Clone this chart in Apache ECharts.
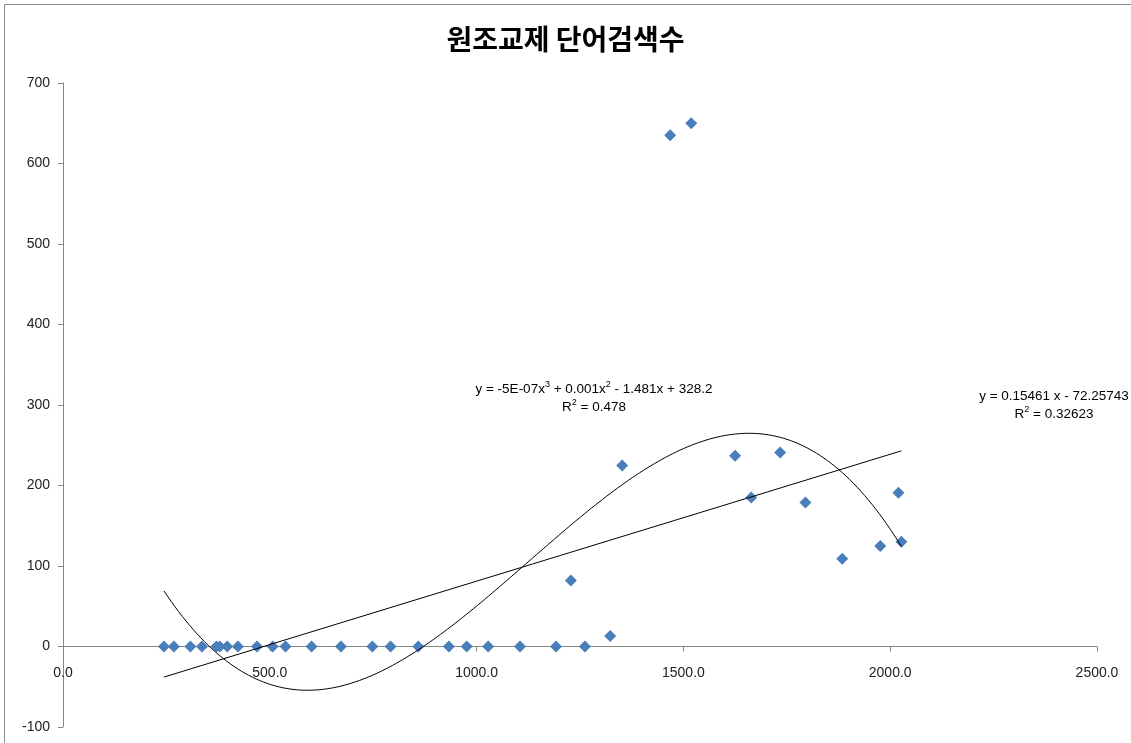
<!DOCTYPE html>
<html>
<head>
<meta charset="utf-8">
<script src="https://cdn.jsdelivr.net/npm/echarts@6/dist/echarts.min.js"></script>
<style>
html,body{margin:0;padding:0;background:#fff;}
#chart{width:1131px;height:743px;}
</style>
</head>
<body>
<div id="chart"></div>
<script>
const titleText = '원조교제 단어검색수';
const xValues = [244, 268, 308, 336, 371, 379, 397, 423, 469, 507, 538, 601, 672, 748, 792, 859, 933, 976, 1028, 1105, 1192, 1262, 1323,
  1228, 1352, 1468, 1519, 1625, 1664, 1734, 1795, 1884, 1976, 2020, 2027];
const yValues = [0, 0, 0, 0, 0, 0, 0, 0, 0, 0, 0, 0, 0, 0, 0, 0, 0, 0, 0, 0, 0, 0, 13,
  82, 225, 635, 650, 237, 185, 241, 179, 109, 125, 191, 130];
const yTicks = [-100, 0, 100, 200, 300, 400, 500, 600, 700];
const xTicks = [0, 500, 1000, 1500, 2000, 2500];
const polyLabel = ['y = -5E-07x', '3', ' + 0.001x', '2', ' - 1.481x + 328.2'];
const polyR2 = '0.478';
const linLabel = 'y = 0.15461 x - 72.25743';
const linR2 = '0.32623';

// least squares polynomial fit (trendlines derived from the data)
function polyFit(xs, ys, deg) {
  const s = 1000;
  const n = deg + 1;
  const A = [];
  for (let i = 0; i < n; i++) { A.push(new Array(n + 1).fill(0)); }
  for (let k = 0; k < xs.length; k++) {
    const x = xs[k] / s;
    for (let i = 0; i < n; i++) {
      for (let j = 0; j < n; j++) A[i][j] += Math.pow(x, i + j);
      A[i][n] += ys[k] * Math.pow(x, i);
    }
  }
  for (let c = 0; c < n; c++) {
    let p = c;
    for (let r = c + 1; r < n; r++) if (Math.abs(A[r][c]) > Math.abs(A[p][c])) p = r;
    [A[c], A[p]] = [A[p], A[c]];
    for (let r = 0; r < n; r++) {
      if (r === c) continue;
      const f = A[r][c] / A[c][c];
      for (let j = c; j <= n; j++) A[r][j] -= f * A[c][j];
    }
  }
  const coef = A.map((row, i) => row[n] / row[i]);
  return x => coef.reduce((acc, cf, i) => acc + cf * Math.pow(x / s, i), 0);
}
const minX = Math.min(...xValues), maxX = Math.max(...xValues);
const linF = polyFit(xValues, yValues, 1);
const cubF = polyFit(xValues, yValues, 3);
const linData = [[minX, linF(minX)], [maxX, linF(maxX)]];
const cubData = [];
for (let i = 0; i <= 200; i++) {
  const x = minX + (maxX - minX) * i / 200;
  cubData.push([x, cubF(x)]);
}

const gridTop = 83, gridBottom = 16, H = 743;
const yMin = yTicks[0], yMax = yTicks[yTicks.length - 1];
const plotH = H - gridTop - gridBottom;
const zeroOffset = -plotH * (0 - yMin) / (yMax - yMin);

const chart = echarts.init(document.getElementById('chart'), null, {renderer: 'canvas'});
const labelFont = 'Liberation Sans, Arial, sans-serif';
const richStyle = {
  a: {fontSize: 13.5, fontFamily: labelFont, color: '#000', lineHeight: 18},
  s: {fontSize: 9, fontFamily: labelFont, color: '#000', verticalAlign: 'top', lineHeight: 18, padding: [0, 0, 7, 0]}
};
chart.setOption({
  backgroundColor: '#fff',
  animation: false,
  title: {
    text: titleText, left: 'center', top: 20,
    textStyle: {fontFamily: 'Noto Sans CJK KR', fontWeight: 'bold', fontSize: 28, color: '#000'}
  },
  grid: {left: 63, right: 34, top: gridTop, bottom: gridBottom, outerBoundsMode: 'none', containLabel: false},
  xAxis: {
    type: 'value', min: xTicks[0], max: xTicks[xTicks.length - 1], interval: 500,
    position: 'bottom', offset: zeroOffset,
    axisLine: {onZero: false, lineStyle: {color: '#868686', width: 1}},
    axisTick: {show: true, length: 5, lineStyle: {color: '#868686'}},
    axisLabel: {color: '#222', fontSize: 14, fontFamily: labelFont, margin: 20,
      formatter: v => v.toFixed(1)},
    splitLine: {show: false}
  },
  yAxis: {
    type: 'value', min: yMin, max: yMax, interval: 100,
    axisLine: {show: true, onZero: false, lineStyle: {color: '#868686', width: 1}},
    axisTick: {show: true, length: 5, lineStyle: {color: '#868686'}},
    axisLabel: {color: '#222', fontSize: 14, fontFamily: labelFont, margin: 13},
    splitLine: {show: false}
  },
  series: [
    {
      type: 'line', data: linData, showSymbol: false, symbol: 'none',
      lineStyle: {color: '#000', width: 1}, silent: true, z: 3
    },
    {
      type: 'line', data: cubData, showSymbol: false, symbol: 'none', smooth: false,
      lineStyle: {color: '#000', width: 1}, silent: true, z: 3
    },
    {
      type: 'scatter', data: xValues.map((x, i) => [x, yValues[i]]),
      symbol: 'diamond', symbolSize: 12,
      itemStyle: {color: '#4A7EBB', opacity: 1}, z: 2
    }
  ],
  graphic: [
    {type: 'rect', shape: {x: 4.5, y: 4.5, width: 1200, height: 800},
      style: {fill: 'none', stroke: '#8c8c8c', lineWidth: 1}, silent: true},
    {type: 'text', x: 594, y: 398, style: {
      text: '{a|' + polyLabel[0] + '}{s|' + polyLabel[1] + '}{a|' + polyLabel[2] + '}{s|' + polyLabel[3] + '}{a|' + polyLabel[4] + '}\n{a|R}{s|2}{a| = ' + polyR2 + '}',
      align: 'center', verticalAlign: 'middle', lineHeight: 18, rich: richStyle
    }},
    {type: 'text', x: 1054, y: 405, style: {
      text: '{a|' + linLabel + '}\n{a|R}{s|2}{a| = ' + linR2 + '}',
      align: 'center', verticalAlign: 'middle', lineHeight: 18, rich: richStyle
    }}
  ]
});
</script>
</body>
</html>
